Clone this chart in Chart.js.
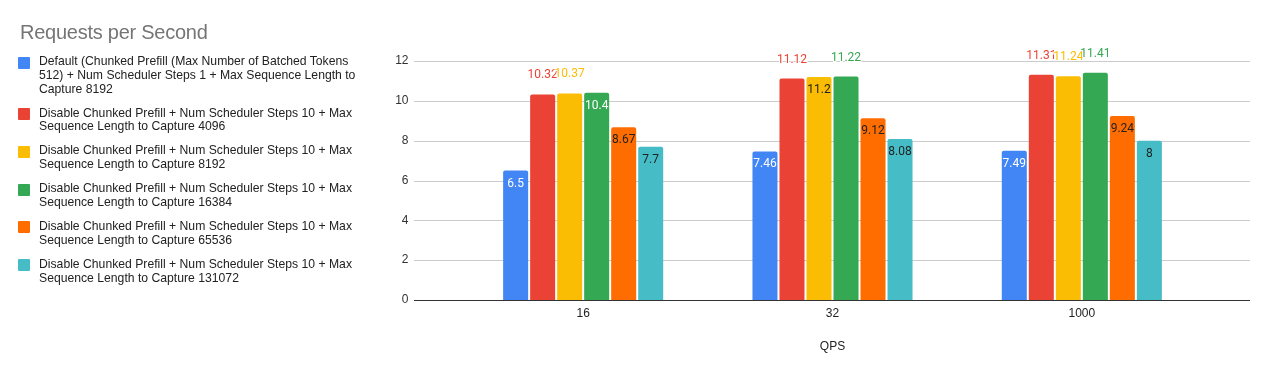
<!DOCTYPE html>
<html>
<head>
<meta charset="utf-8">
<script src="https://cdn.jsdelivr.net/npm/chart.js@4.4.0/dist/chart.umd.min.js"></script>
<style>
  body { margin: 0; background: #fff; }
  #wrap { position: relative; width: 1268px; height: 371px; }
  #chart { position: absolute; left: 0; top: 0; }
  #title { position: absolute; left: 20px; top: 20px; font: 20px Arial, "Liberation Sans", sans-serif; letter-spacing: -0.25px; line-height: 24px; color: #757575; }
  #legend { position: absolute; left: 18px; top: 55px; font: 12.2px Arial, "Liberation Sans", sans-serif; color: #222; }
  .item { position: relative; padding-left: 21px; width: 330px; line-height: 13.8px; margin-bottom: 10.2px; }
  .sw { position: absolute; left: 0; top: 1.5px; width: 12px; height: 12px; border-radius: 1px; }
</style>
</head>
<body>
<div id="wrap">
  <canvas id="chart" width="1268" height="371"></canvas>
  <div id="title">Requests per Second</div>
  <div id="legend"></div>
</div>
<script>
const categories = ["16", "32", "1000"];
const seriesNames = [
  "Default (Chunked Prefill (Max Number of Batched Tokens 512) + Num Scheduler Steps 1 + Max Sequence Length to Capture 8192",
  "Disable Chunked Prefill + Num Scheduler Steps 10 + Max Sequence Length to Capture 4096",
  "Disable Chunked Prefill + Num Scheduler Steps 10 + Max Sequence Length to Capture 8192",
  "Disable Chunked Prefill + Num Scheduler Steps 10 + Max Sequence Length to Capture 16384",
  "Disable Chunked Prefill + Num Scheduler Steps 10 + Max Sequence Length to Capture 65536",
  "Disable Chunked Prefill + Num Scheduler Steps 10 + Max Sequence Length to Capture 131072"
];
const defaultRps = [6.5, 7.46, 7.49];
const cap4096 = [10.32, 11.12, 11.31];
const cap8192 = [10.37, 11.2, 11.24];
const cap16384 = [10.4, 11.22, 11.41];
const cap65536 = [8.67, 9.12, 9.24];
const cap131072 = [7.7, 8.08, 8];
const yTicks = [0, 2, 4, 6, 8, 10, 12];

const colors = ["#4285f4", "#ea4335", "#fbbc04", "#34a853", "#ff6d01", "#46bdc6"];
const insideText = ["#fff", "#fff", "#222", "#fff", "#222", "#222"];
// which value labels sit above the bar (Sheets moves them out when they would collide)
const labelAbove = [[0, 0, 0], [1, 1, 1], [1, 0, 1], [0, 1, 1], [0, 0, 0], [0, 0, 0]];

const allSeries = [defaultRps, cap4096, cap8192, cap16384, cap65536, cap131072];

// gridlines run past the category band, like in Sheets
const wideGrid = {
  id: "wideGrid",
  beforeDatasetsDraw(chart) {
    const { ctx, chartArea, scales } = chart;
    ctx.save();
    yTicks.forEach(v => {
      const y = Math.round(scales.y.getPixelForValue(v)) + 0.5;
      ctx.strokeStyle = v === 0 ? "#333" : "#ccc";
      ctx.lineWidth = 1;
      ctx.beginPath();
      ctx.moveTo(chartArea.left - 44.5, y);
      ctx.lineTo(chartArea.right + 43.5, y);
      ctx.stroke();
    });
    ctx.restore();
  }
};

const valueLabels = {
  id: "valueLabels",
  afterDatasetsDraw(chart) {
    const ctx = chart.ctx;
    ctx.save();
    ctx.font = "12px Roboto, Arial, sans-serif";
    ctx.textAlign = "center";
    ctx.textBaseline = "middle";
    chart.data.datasets.forEach((ds, i) => {
      chart.getDatasetMeta(i).data.forEach((bar, j) => {
        const txt = String(ds.data[j]);
        if (labelAbove[i][j]) {
          const y = bar.y - 19;
          ctx.lineWidth = 2;
          ctx.strokeStyle = "#fff";
          ctx.strokeText(txt, bar.x, y);
          ctx.fillStyle = colors[i];
          ctx.fillText(txt, bar.x, y);
        } else {
          ctx.fillStyle = insideText[i];
          ctx.fillText(txt, bar.x, bar.y + 13);
        }
      });
    });
    ctx.restore();
  }
};

const chart = new Chart(document.getElementById("chart"), {
  type: "bar",
  data: {
    labels: categories,
    datasets: allSeries.map((vals, i) => ({
      label: seriesNames[i],
      data: vals,
      backgroundColor: colors[i],
      borderRadius: { topLeft: 2, topRight: 2, bottomLeft: 0, bottomRight: 0 },
      borderSkipped: "start",
      categoryPercentage: 0.65,
      barPercentage: 0.926
    }))
  },
  options: {
    responsive: false,
    animation: false,
    layout: { padding: { left: 358.5, right: 61.5, top: 61, bottom: 0 } },
    plugins: {
      legend: { display: false },
      title: { display: false },
      tooltip: { enabled: false }
    },
    scales: {
      x: {
        grid: { display: false, drawTicks: false },
        border: { display: false },
        ticks: { color: "#222", font: { family: "Arial", size: 12 }, padding: 6 },
        title: {
          display: true,
          text: "QPS",
          color: "#222",
          font: { family: "Arial", size: 12 },
          padding: { top: 0, bottom: 17 }
        },
        afterFit(scale) { scale.height = 71; }
      },
      y: {
        min: 0,
        max: 12,
        grid: { display: false, drawTicks: false },
        border: { display: false },
        ticks: { stepSize: 2, color: "#333", font: { family: "Arial", size: 12 }, padding: 50 },
        afterFit(scale) { scale.width = 100; }
      }
    }
  },
  plugins: [wideGrid, valueLabels]
});

// html legend so the long names can wrap
const legendEl = document.getElementById("legend");
chart.data.datasets.forEach((ds, i) => {
  legendEl.insertAdjacentHTML("beforeend",
    `<div class="item"><span class="sw" style="background:${colors[i]}"></span>${ds.label}</div>`);
});
</script>
</body>
</html>
